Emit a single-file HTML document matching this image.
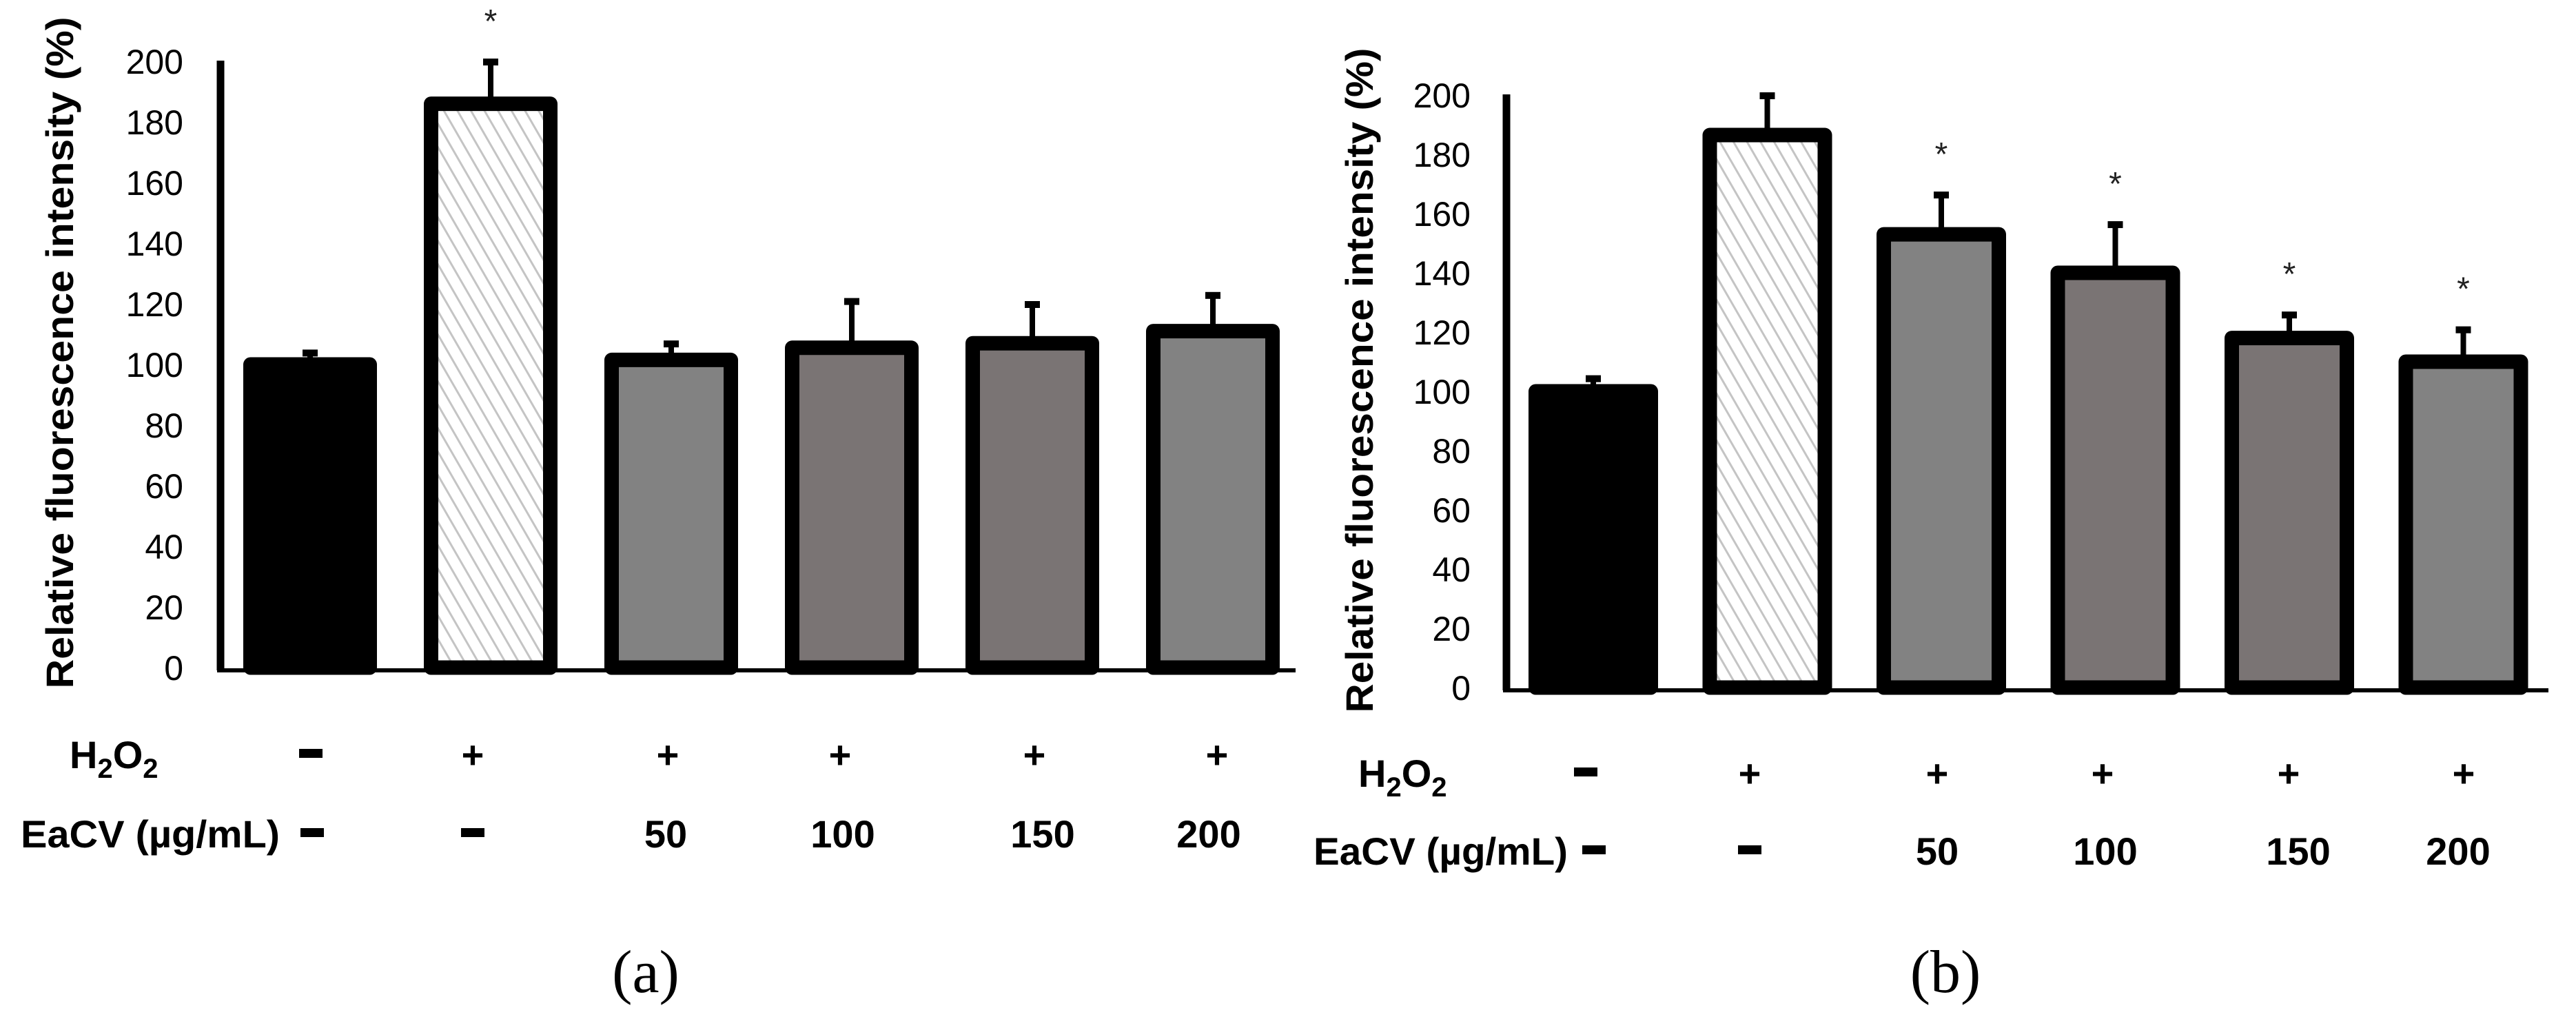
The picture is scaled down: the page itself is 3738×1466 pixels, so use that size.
<!DOCTYPE html>
<html><head><meta charset="utf-8">
<style>
html,body{margin:0;padding:0;background:#fff;}
svg{display:block;}
.tick{font-family:"Liberation Sans",sans-serif;font-size:50px;fill:#000;}
.lab{font-family:"Liberation Sans",sans-serif;font-size:56px;font-weight:bold;fill:#000;}
.ytitle{font-family:"Liberation Sans",sans-serif;font-size:56px;font-weight:bold;fill:#000;}
.cap{font-family:"Liberation Serif",serif;font-size:88px;fill:#000;}
.star{font-family:"Liberation Sans",sans-serif;font-size:48px;fill:#222;}
</style></head>
<body>
<svg id="fig" width="3738" height="1466" viewBox="0 0 3738 1466" xmlns="http://www.w3.org/2000/svg">
<defs>
<pattern id="hatch" patternUnits="userSpaceOnUse" width="17" height="17" patternTransform="rotate(-30)">
<rect width="17" height="17" fill="#fff"/>
<line x1="0" y1="0" x2="0" y2="17" stroke="#c4c4c4" stroke-width="6"/>
</pattern>
</defs>
<g id="panelA"></g>
<g id="panelB"></g>
</svg>
<script>
const categories = ["control","H2O2","EaCV 50","EaCV 100","EaCV 150","EaCV 200"];
const valuesA = [100, 186, 101.5, 105.5, 107, 111];
const errTopA = [104, 200, 107, 121, 120, 123];
const starsA = [false, true, false, false, false, false];
const valuesB = [100, 186.5, 153, 140, 118, 110];
const errTopB = [104.5, 200, 166.5, 156.5, 126, 121];
const starsB = [false, false, true, true, true, true];
const yTicks = [0,20,40,60,80,100,120,140,160,180,200];
const h2o2Row = ["−","+","+","+","+","+"];
const eacvRow = ["−","−","50","100","150","200"];
const fills = ["#000","url(#hatch)","#828282","#7a7474","#7a7474","#828282"];

const NS="http://www.w3.org/2000/svg";
function mk(parent,tag,attrs,text){
  const e=document.createElementNS(NS,tag);
  for(const k in attrs) e.setAttribute(k,attrs[k]);
  if(text!==undefined) e.textContent=text;
  parent.appendChild(e); return e;
}

function drawPanel(g, cfg, values, errTop, stars){
  const yScale = v => cfg.y0 - (v/200)*(cfg.y0-cfg.y200);
  const xLeft = i => cfg.bar0 + i*cfg.pitch;
  const ya = mk(g,'line',{x1:cfg.ax,y1:cfg.y200-1,x2:cfg.ax,y2:cfg.y0+4,stroke:'#000','stroke-width':11});
  
  
  const xa = mk(g,'line',{x1:cfg.ax-5,y1:cfg.y0+4,x2:cfg.xEnd,y2:cfg.y0+4,stroke:'#000','stroke-width':6});
  
  
  yTicks.forEach(t=>{
    const tx = mk(g,'text',{x:cfg.tickRight,y:yScale(t)+18,'text-anchor':'end',class:'tick'},String(t));
    
    
  });
  const yt = mk(g,'text',{class:'ytitle','text-anchor':'middle',x:0,y:0,transform:`translate(${cfg.titleX},${cfg.titleMid}) rotate(-90)`,textLength:cfg.titleLen,lengthAdjust:'spacingAndGlyphs'},'Relative fluorescence intensity  (%)');
  
  
  const bw = cfg.bw, sw = 21;
  values.forEach((v,i)=>{
    const x = xLeft(i), top = yScale(v), cx = x + bw/2;
    const et = yScale(errTop[i]);
    const el = mk(g,'line',{x1:cx,y1:top,x2:cx,y2:et,stroke:'#000','stroke-width':8});
    
    
    const ec = mk(g,'rect',{x:cx-11,y:et-4,width:22,height:10,fill:'#000'});
    
    
    const r = mk(g,'rect',{x:x+sw/2,y:top,width:bw-sw,height:cfg.y0-top,fill:fills[i],stroke:'#000','stroke-width':sw,'stroke-linejoin':'round'});
    
    
    if(stars[i]){
      const s = mk(g,'text',{x:cx,y:et-cfg.starGap,'text-anchor':'middle',class:'star'},'*');
      
      
    }
  });
  const h = mk(g,'text',{x:cfg.rowLabH,y:cfg.row1,class:'lab'});
  
  
  h.innerHTML='H<tspan dy="14" font-size="40">2</tspan><tspan dy="-14">O</tspan><tspan dy="14" font-size="40">2</tspan>';
  const e = mk(g,'text',{x:cfg.rowLabE,y:cfg.row2,class:'lab',textLength:cfg.eLen,lengthAdjust:'spacingAndGlyphs'},'EaCV (µg/mL)');
  
  
  h2o2Row.forEach((s,i)=>{
    const cx = cfg.row1X[i];
    if(s==="−"){
      const d = mk(g,'rect',{x:cx-17,y:cfg.row1-28,width:34,height:13,fill:'#000'});
      
      
    } else {
      const p = mk(g,'text',{x:cx,y:cfg.row1,'text-anchor':'middle',class:'lab'},'+');
      
      
    }
  });
  eacvRow.forEach((s,i)=>{
    const cx = cfg.row2X[i];
    if(s==="−"){
      const d = mk(g,'rect',{x:cx-17,y:cfg.row2-28,width:34,height:13,fill:'#000'});
      
      
    } else {
      const p = mk(g,'text',{x:cx,y:cfg.row2,'text-anchor':'middle',class:'lab'},s);
      
      
    }
  });
  const c = mk(g,'text',{x:cfg.capX,y:1440,'text-anchor':'middle',class:'cap'},cfg.cap);
  
  
}

drawPanel(document.getElementById('panelA'),{
  ax:320, y0:969, y200:89, xEnd:1880, bar0:353, pitch:262, bw:194,
  tickRight:266, titleX:106, titleMid:512, titleLen:975, starGap:42,
  rowLabH:101, rowLabE:30, eLen:376, row1:1115, row2:1230,
  row1X:[451,686,969,1219,1501,1766], row2X:[453,686,966,1223,1513,1754],
  capX:937, cap:'(a)'
}, valuesA, errTopA, starsA);

drawPanel(document.getElementById('panelB'),{
  ax:2186, y0:998, y200:138, xEnd:3698, bar0:2218, pitch:252.5, bw:188,
  tickRight:2134, titleX:1992, titleMid:552, titleLen:965, starGap:42,
  rowLabH:1971, rowLabE:1906, eLen:369, row1:1142, row2:1255,
  row1X:[2301,2539,2811,3051,3321,3575], row2X:[2313,2539,2811,3055,3335,3567],
  capX:2823, cap:'(b)'
}, valuesB, errTopB, starsB);
</script>
</body></html>
